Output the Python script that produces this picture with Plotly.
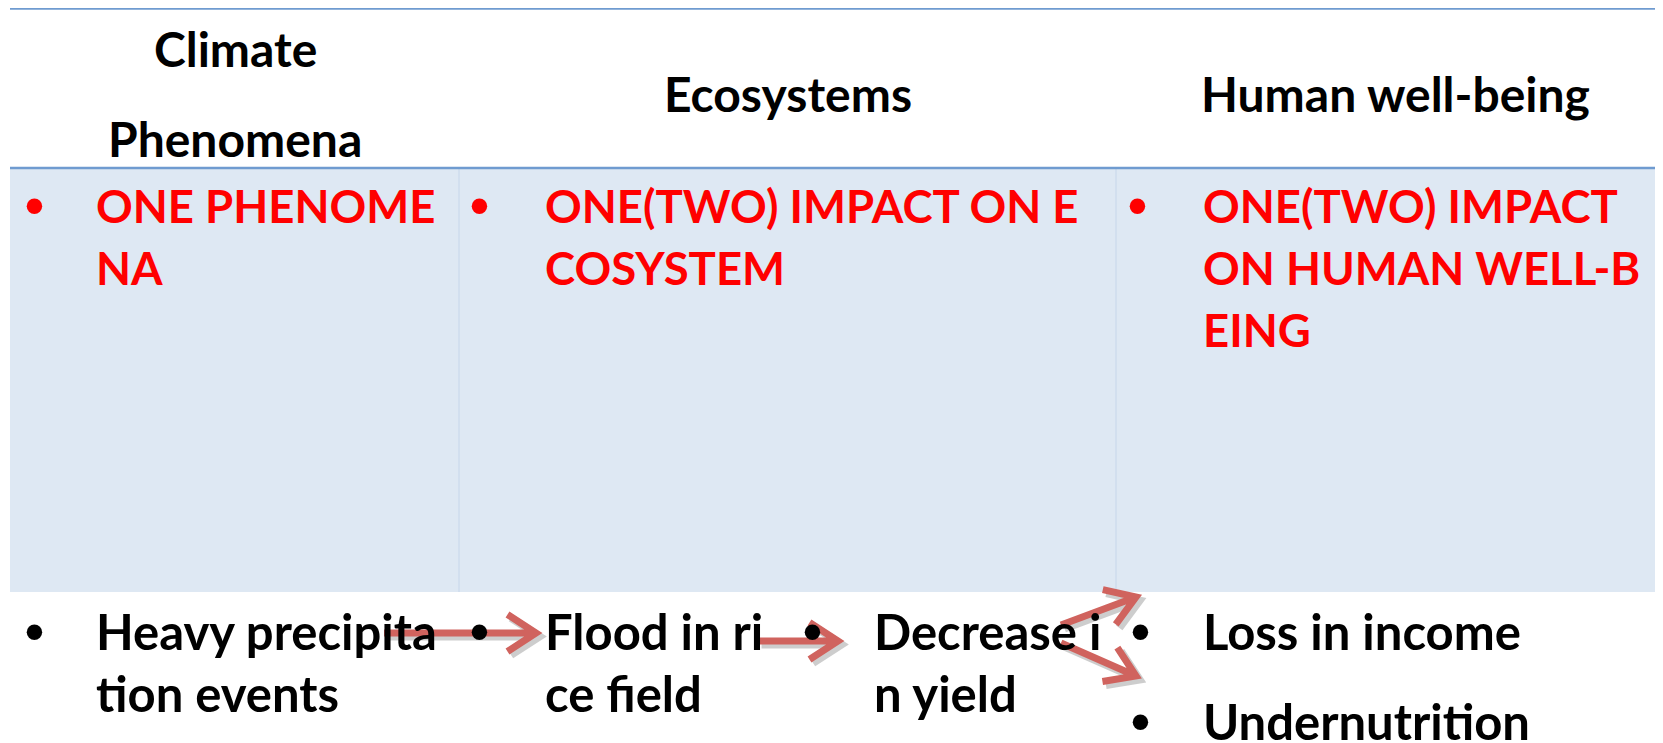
import math
import plotly.graph_objects as go

W, H = 1663, 743
PAD = 8  # default page body margin: figure starts at (8, 8) on the page

# ---- content ----
header_texts = ["Climate", "Phenomena", "Ecosystems", "Human well-being"]
header_x = [235, 235, 788, 1395]
header_y = [48, 138, 93, 93]

red_cells = [
    ["ONE PHENOME", "NA"],
    ["ONE(TWO) IMPACT ON E", "COSYSTEM"],
    ["ONE(TWO) IMPACT", "ON HUMAN WELL-B", "EING"],
]
red_bullet_x = [34, 479, 1137]
red_text_x = [95, 544, 1202]

bottom_cells = [
    ["Heavy precipita", "tion events"],
    ["Flood in ri", "ce field"],
    ["Decrease i", "n yield"],
]
bottom_bullet_x = [34, 479, 812]
bottom_text_x = [95, 544, 873]
outcomes = ["Loss in income", "Undernutrition"]
outcome_y = [631, 721]

# arrows: (x0, y0, x1, y1)
arrows = [
    (384, 633, 536, 633),
    (758, 641, 838, 641),
    (1061, 625, 1136, 597),
    (1061, 643, 1136, 676),
]

# ---- style ----
FONT = "Lato"
FS = 45.5
BFS_TXT = 49
HFS = 48
LINE = 62
RED = "#ff0000"
RULE = "#6f9bd0"
FILL = "#dee8f3"
DIV = "#c6d6ea"
ARROW = "#d0635e"
BULLET_FONT = "Liberation Sans"
BFS = 54

fig = go.Figure()
fig.add_trace(go.Scatter(x=[PAD, W], y=[PAD, H], mode="markers",
                         marker=dict(opacity=0), hoverinfo="skip", showlegend=False))

shapes = []
shapes.append(dict(type="rect", x0=10, x1=W, y0=168, y1=592, fillcolor=FILL,
                   line=dict(width=0), layer="below"))
for dx in [459, 1116]:
    shapes.append(dict(type="line", x0=dx, x1=dx, y0=168, y1=592,
                       line=dict(color=DIV, width=1)))
shapes.append(dict(type="line", x0=10, x1=W, y0=8.5, y1=8.5, line=dict(color=RULE, width=2.5)))
shapes.append(dict(type="line", x0=10, x1=W, y0=168, y1=168, line=dict(color=RULE, width=2.5)))

ann = []
for t, x, y in zip(header_texts, header_x, header_y):
    ann.append(dict(x=x, y=y, text=t, showarrow=False, xanchor="center", yanchor="middle",
                    font=dict(family=FONT, size=HFS, color="black", weight="bold")))

def bullet(x, y, color):
    return dict(x=x, y=y, text="•", showarrow=False, xanchor="center", yanchor="middle",
                font=dict(family=BULLET_FONT, size=BFS, color=color, weight="bold"))

def line_text(x, y, t, color, size):
    return dict(x=x, y=y, text=t, showarrow=False, xanchor="left", yanchor="middle",
                borderpad=0,
                font=dict(family=FONT, size=size, color=color, weight="bold"))

y0_red = 205
for lines, bx, tx in zip(red_cells, red_bullet_x, red_text_x):
    ann.append(bullet(bx, y0_red, RED))
    for i, ln in enumerate(lines):
        ann.append(line_text(tx, y0_red + i * LINE, ln, RED, FS))

y0_bot = 631
for lines, bx, tx in zip(bottom_cells, bottom_bullet_x, bottom_text_x):
    ann.append(bullet(bx, y0_bot, "black"))
    for i, ln in enumerate(lines):
        ann.append(line_text(tx, y0_bot + i * LINE, ln, "black", BFS_TXT))
for t, y in zip(outcomes, outcome_y):
    ann.append(bullet(1140, y, "black"))
    ann.append(line_text(1202, y, t, "black", BFS_TXT))

def arrow_path(x0, y0, x1, y1, hl=34, ang=33, off=0.0):
    a = math.atan2(y1 - y0, x1 - x0)
    la = a + math.pi - math.radians(ang)
    ra = a + math.pi + math.radians(ang)
    lx, ly = x1 + hl * math.cos(la), y1 + hl * math.sin(la)
    rx, ry = x1 + hl * math.cos(ra), y1 + hl * math.sin(ra)
    o = off
    return (f"M {x0+o} {y0+o} L {x1+o} {y1+o} "
            f"M {lx+o} {ly+o} L {x1+o} {y1+o} L {rx+o} {ry+o}")

arrow_shapes = []
for (x0, y0, x1, y1) in arrows:
    arrow_shapes.append(dict(type="path", path=arrow_path(x0, y0, x1, y1, off=3.5),
                             line=dict(color="rgba(90,90,90,0.3)", width=8), layer="above"))
for (x0, y0, x1, y1) in arrows:
    arrow_shapes.append(dict(type="path", path=arrow_path(x0, y0, x1, y1),
                             line=dict(color=ARROW, width=7), layer="above"))

fig.update_layout(
    annotations=ann,
    shapes=shapes + arrow_shapes,
    width=W - PAD, height=H - PAD,
    margin=dict(l=0, r=0, t=0, b=0),
    paper_bgcolor="white", plot_bgcolor="white",
    xaxis=dict(range=[PAD, W], visible=False, fixedrange=True),
    yaxis=dict(range=[H, PAD], visible=False, fixedrange=True),
    showlegend=False,
)

fig.write_html("out.html", config={"displayModeBar": False})
